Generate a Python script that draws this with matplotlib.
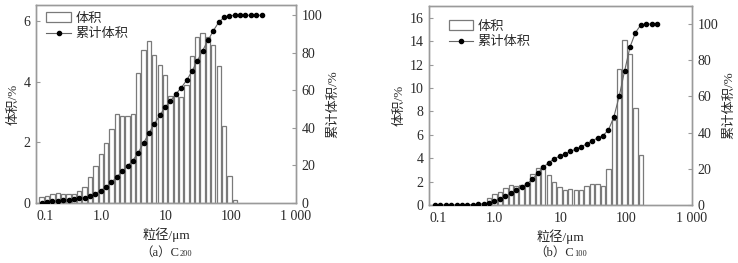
import matplotlib
matplotlib.use('Agg')
import matplotlib.pyplot as plt
from matplotlib.patches import Patch
from matplotlib.lines import Line2D
import matplotlib.transforms as mtransforms

plt.rcParams['font.family'] = ['Liberation Serif', 'Noto Sans CJK SC']

# ---------------- data ----------------
sizes_um = [0.122, 0.148, 0.179, 0.217, 0.262, 0.317, 0.383, 0.463, 0.560, 0.677,
            0.819, 0.990, 1.20, 1.45, 1.75, 2.12, 2.56, 3.09, 3.74, 4.52,
            5.47, 6.61, 8.00, 9.67, 11.7, 14.1, 17.1, 20.7, 25.0, 30.2,
            36.6, 44.2, 53.5, 64.7, 78.2, 94.5, 114, 138, 167, 202,
            244, 296]

# (a) C200
bar_size_a = sizes_um[0:37]
vol_a = [0.20, 0.24, 0.31, 0.33, 0.31, 0.31, 0.31, 0.39, 0.53, 0.86,
         1.21, 1.62, 1.97, 2.43, 2.92, 2.87, 2.85, 2.93, 4.28, 5.04,
         5.34, 4.88, 4.54, 4.21, 3.51, 3.51, 3.48, 3.88, 4.85, 5.46,
         5.60, 5.45, 5.20, 4.50, 2.55, 0.90, 0.10]
cum_a = [0.2, 0.4, 0.8, 1.1, 1.4, 1.7, 2.0, 2.4, 2.9, 3.8,
         5.0, 6.6, 8.6, 11.0, 13.9, 16.8, 19.7, 22.6, 26.9, 31.9,
         37.3, 42.1, 46.7, 50.9, 54.4, 57.9, 61.4, 65.3, 70.1, 75.6,
         81.2, 86.6, 91.8, 96.3, 98.9, 99.8, 100, 100, 100, 100,
         100, 100]

# (b) C100
bar_size_b = sizes_um[10:39]
vol_b = [0.57, 0.91, 1.14, 1.42, 1.68, 1.65, 1.68, 1.90, 2.64, 3.12,
         3.32, 2.59, 1.93, 1.56, 1.25, 1.34, 1.28, 1.31, 1.65, 1.82,
         1.76, 1.59, 3.04, 7.24, 11.65, 14.06, 12.93, 8.32, 4.26]
cum_b = [0.0, 0.0, 0.0, 0.0, 0.0, 0.0, 0.1, 0.2, 0.4, 0.7,
         1.3, 2.2, 3.4, 4.8, 6.5, 8.1, 9.8, 11.7, 14.3, 17.5,
         20.8, 23.4, 25.5, 27.0, 28.3, 29.6, 30.9, 32.2, 33.8, 35.5,
         37.0, 38.4, 41.4, 48.6, 60.2, 74.2, 87.3, 95.3, 99.6, 100,
         100, 100]

xticks = [0.1, 1, 10, 100, 1000]
xticklabels = ['0.1', '1.0', '10', '100', '1 000']

# ---------------- style ----------------
TXT = '#2a2a2a'
SPINE = '#9a9a9a'
BAR_EDGE = '#7a7a7a'
LINE = '#666666'
HALF = 10 ** 0.033
MS = 3.0

fig = plt.figure(figsize=(7.38, 2.63), dpi=100)
W, H = 738, 263


def px_axes(l, t, r, b):
    return fig.add_axes([l / W, (H - b) / H, (r - l) / W, (b - t) / H])


def caption(xc, prefix, sub):
    t1 = fig.text(0, 0, prefix, fontsize=9, color=TXT, ha='left', va='center')
    t2 = fig.text(0, 0, sub, fontsize=6, color=TXT, ha='left', va='center')
    fig.canvas.draw()
    r = fig.canvas.get_renderer()
    w1 = t1.get_window_extent(r).width
    w2 = t2.get_window_extent(r).width
    x0 = xc * W - (w1 + w2) / 2
    y = 10.5
    t1.set_position((x0 / W, y / H))
    t2.set_position(((x0 + w1) / W, (y - 2) / H))


def panel(ax, bsize, vol, cum, yl_max, yl_ticks, yr_max, leg_anchor):
    lefts = [d / HALF for d in bsize]
    widths = [d * HALF - d / HALF for d in bsize]
    ax.bar(lefts, vol, width=widths, align='edge', facecolor='white',
           edgecolor=BAR_EDGE, linewidth=0.9, zorder=2)
    ax.set_xscale('log')
    ax.set_xlim(0.1, 1000)
    ax.set_ylim(0, yl_max)
    ax.set_xticks(xticks)
    ax.set_xticklabels(xticklabels)
    ax.minorticks_off()
    ax.set_yticks(yl_ticks)
    ax.tick_params(direction='in', length=3, color=SPINE, labelsize=10,
                   labelcolor=TXT, pad=4)
    ax.tick_params(axis='x', length=0, pad=5)
    ax.set_ylabel('体积/%', fontsize=9.5, color=TXT, labelpad=3)
    ax.set_xlabel('粒径/μm', fontsize=9.5, color=TXT, labelpad=3)
    lab = ax.get_xticklabels()[0]
    lab.set_transform(lab.get_transform() +
                      mtransforms.ScaledTranslation(9 / 100, 0, fig.dpi_scale_trans))
    for s in ax.spines.values():
        s.set_color(SPINE)
        s.set_linewidth(1.0)

    ax2 = ax.twinx()
    ax2.plot(sizes_um, cum, color=LINE, linewidth=0.8, marker='o',
             markersize=MS, markerfacecolor='black', markeredgecolor='black',
             zorder=3)
    ax2.set_ylim(0, yr_max)
    ax2.set_yticks([0, 20, 40, 60, 80, 100])
    ax2.tick_params(direction='in', length=3, color=SPINE, labelsize=10,
                    labelcolor=TXT, pad=4)
    ax2.set_ylabel('累计体积/%', fontsize=9.5, color=TXT, labelpad=4)
    for s in ax2.spines.values():
        s.set_color(SPINE)
        s.set_linewidth(1.0)

    handles = [Patch(facecolor='white', edgecolor=BAR_EDGE, linewidth=0.9),
               Line2D([], [], color=LINE, linewidth=0.8, marker='o',
                      markersize=MS, markerfacecolor='black',
                      markeredgecolor='black')]
    leg = ax2.legend(handles, ['体积', '累计体积'], loc='upper left',
                     bbox_to_anchor=leg_anchor, frameon=False, fontsize=9.5,
                     borderpad=0, borderaxespad=0, handlelength=1.85,
                     handleheight=0.8, handletextpad=0.35, labelspacing=0.25)
    for t in leg.get_texts():
        t.set_color(TXT)
    return ax2


ax_a = px_axes(36, 5, 296, 203)
panel(ax_a, bar_size_a, vol_a, cum_a, 6.52, [0, 2, 4, 6], 105.5, (0.04, 0.965))

ax_b = px_axes(429, 6, 692, 205)
panel(ax_b, bar_size_b, vol_b, cum_b, 17.0, [0, 2, 4, 6, 8, 10, 12, 14, 16], 110,
      (0.075, 0.93))

pa = ax_a.get_position()
pb = ax_b.get_position()
caption(pa.x0 + pa.width / 2, '（a）C', '200')
caption(pb.x0 + pb.width / 2, '（b）C', '100')

fig.savefig('out.png', dpi=100)
